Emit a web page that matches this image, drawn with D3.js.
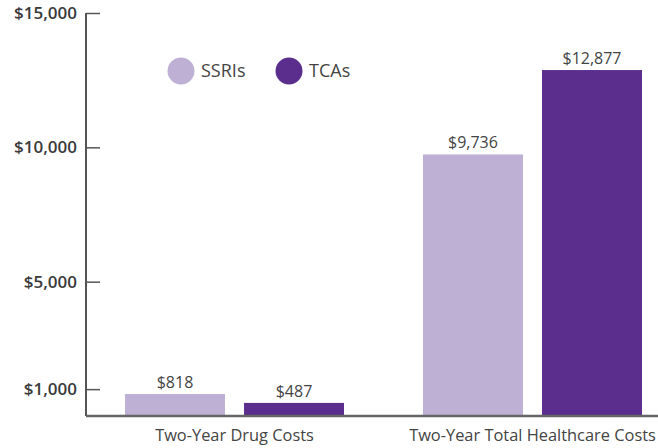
<!DOCTYPE html>
<html>
<head>
<meta charset="utf-8">
<title>Costs</title>
<script src="https://d3js.org/d3.v7.min.js"></script>
<style>
  body { margin: 0; background: #fff; }
  svg { font-family: "Open Sans", "Noto Sans", sans-serif; }
</style>
</head>
<body>
<svg id="chart" width="658" height="448"></svg>
<script>
// data
var categories = ["Two-Year Drug Costs", "Two-Year Total Healthcare Costs"];
var seriesNames = ["SSRIs", "TCAs"];
var ssriValues = [818, 9736];
var tcaValues = [487, 12877];
var tickValues = [1000, 5000, 10000, 15000];
var colors = ["#beb0d5", "#5b2e8e"];

function draw() {
  var svg = d3.select("#chart");
  var values = [ssriValues, tcaValues];

  var y = d3.scaleLinear().domain([0, 15000]).range([416, 13]);
  var x0 = d3.scaleBand().domain(categories).range([86, 682]);
  var x1 = d3.scaleBand().domain(seriesNames).range([39, 258]).paddingInner(0.16);

  var fmt = function(v){ return "$" + d3.format(",")(v); };

  // y axis
  var yAxis = d3.axisRight(y).tickValues(tickValues).tickSize(14).tickFormat("");
  var ga = svg.append("g").attr("transform", "translate(86,0)").call(yAxis);
  ga.select(".domain").attr("d", "M0,416V13").attr("stroke", "#555").attr("stroke-width", 2);
  ga.selectAll(".tick line").attr("stroke", "#555").attr("stroke-width", 1.5);

  svg.append("g").selectAll("text").data(tickValues).enter().append("text")
    .attr("x", 77).attr("y", function(d){ return y(d); })
    .attr("dy", "0.35em")
    .attr("text-anchor", "end")
    .attr("font-size", 17).attr("font-weight", 600).attr("fill", "#3a3a3a")
    .text(fmt);

  // bars
  categories.forEach(function(c, i){
    var g = svg.append("g").attr("transform", "translate(" + x0(c) + ",0)");
    seriesNames.forEach(function(s, j){
      var v = values[j][i];
      g.append("rect")
        .attr("x", x1(s)).attr("width", x1.bandwidth())
        .attr("y", y(v)).attr("height", y(0) - y(v))
        .attr("fill", colors[j]);
      g.append("text")
        .attr("x", x1(s) + x1.bandwidth() / 2).attr("y", y(v) - 6)
        .attr("text-anchor", "middle")
        .attr("font-size", 16).attr("fill", "#444")
        .text(fmt(v));
    });
    g.append("text")
      .attr("x", x1("SSRIs") + (x1("TCAs") + x1.bandwidth() - x1("SSRIs")) / 2)
      .attr("y", 441)
      .attr("text-anchor", "middle")
      .attr("font-size", 16.4).attr("fill", "#444")
      .text(c);
  });

  // x baseline
  svg.append("line").attr("x1", 86).attr("x2", 658).attr("y1", 416).attr("y2", 416)
    .attr("stroke", "#666").attr("stroke-width", 2.5);

  // legend
  var legX = [181, 289];
  seriesNames.forEach(function(s, j){
    svg.append("circle").attr("cx", legX[j]).attr("cy", 71).attr("r", 13.5).attr("fill", colors[j]);
    svg.append("text").attr("x", legX[j] + 20).attr("y", 71).attr("dy", "0.35em")
      .attr("font-size", 18).attr("fill", "#444").text(s);
  });
}
draw();
</script>
</body>
</html>
